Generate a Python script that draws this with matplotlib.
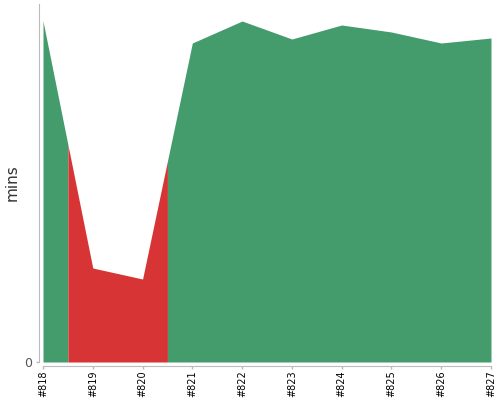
import numpy as np
import matplotlib
matplotlib.use("Agg")
import matplotlib.pyplot as plt

builds = [818, 819, 820, 821, 822, 823, 824, 825, 826, 827]
labels = ["#%d" % b for b in builds]
durations = [34.1, 9.4, 8.3, 31.9, 34.1, 32.3, 33.7, 33.0, 31.9, 32.4]
failed = [False, True, True, False, False, False, False, False, False, False]

GREEN = "#449c6d"
RED = "#d73535"

fig = plt.figure(figsize=(5, 4), dpi=100)
ax = fig.add_axes([0.086, 0.095, 0.896, 0.895])

x = np.array(builds, dtype=float)
y = np.array(durations, dtype=float)
n = len(x)

# group consecutive builds with the same result into one filled region
runs = []
start = 0
for i in range(1, n + 1):
    if i == n or failed[i] != failed[start]:
        runs.append((start, i - 1))
        start = i

for i0, i1 in runs:
    xs = list(x[i0:i1 + 1])
    ys = list(y[i0:i1 + 1])
    if i0 > 0:
        xs.insert(0, (x[i0 - 1] + x[i0]) / 2)
        ys.insert(0, (y[i0 - 1] + y[i0]) / 2)
    if i1 < n - 1:
        xs.append((x[i1] + x[i1 + 1]) / 2)
        ys.append((y[i1] + y[i1 + 1]) / 2)
    ax.fill_between(xs, 0, ys, color=RED if failed[i0] else GREEN, linewidth=0)

ax.set_xlim(builds[0], builds[-1])
ax.set_ylim(0, 35.8)
ax.set_xticks(builds)
ax.set_xticklabels(labels)
ax.set_yticks([0])
ax.set_yticklabels(["0"])
ax.set_ylabel("mins", fontsize=11, color="#333333")
ax.yaxis.set_label_coords(-0.052, 0.5)

for side in ("top", "right"):
    ax.spines[side].set_visible(False)
for side in ("left", "bottom"):
    ax.spines[side].set_position(("outward", 3))
    ax.spines[side].set_color("#bbbbbb")
ax.tick_params(axis="both", color="#bbbbbb", length=2.5, width=1)
ax.tick_params(axis="x", labelrotation=90, labelsize=7, labelcolor="black", pad=0.5)
ax.tick_params(axis="y", labelsize=9, labelcolor="#555555", pad=2)

fig.savefig("out.png", dpi=100)
